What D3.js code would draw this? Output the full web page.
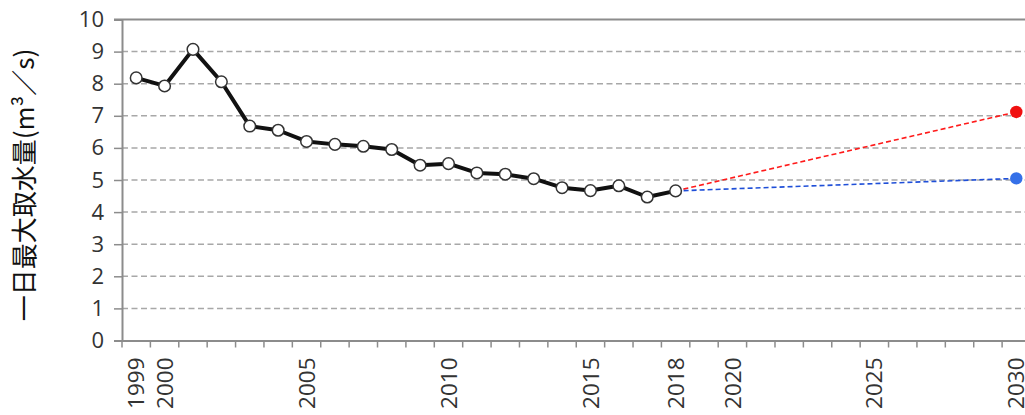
<!DOCTYPE html>
<html><head><meta charset="utf-8">
<script src="https://cdn.jsdelivr.net/npm/d3@7"></script>
<style>
html,body{margin:0;padding:0;background:#fff;}
svg{display:block;}
</style></head>
<body>
<svg id="chart" width="1025" height="415"></svg>
<script>
const years = d3.range(1999, 2031);
const labelYears = [1999, 2000, 2005, 2010, 2015, 2018, 2020, 2025, 2030];
const histYears = [1999,2000,2001,2002,2003,2004,2005,2006,2007,2008,2009,2010,2011,2012,2013,2014,2015,2016,2017,2018];
const histValues = [8.18,7.93,9.07,8.06,6.68,6.55,6.20,6.11,6.05,5.95,5.46,5.51,5.22,5.18,5.04,4.76,4.67,4.82,4.47,4.66];
const projYears = [2018, 2030];
const projHigh = [4.66, 7.12];
const projLow = [4.66, 5.05];
const yTicks = [0,1,2,3,4,5,6,7,8,9,10];
const yTitle = "一日最大取水量(m³／s)";

const svg = d3.select("#chart");
const mLeft = 122, mRight = 1030.5, mTop = 19.5, mBottom = 340.5;

const x = d3.scaleBand().domain(years).range([mLeft, mRight]).padding(0);
const bw = x.bandwidth();
const cx = d => x(d) + bw / 2;
const y = d3.scaleLinear().domain([0, 10]).range([mBottom, mTop]);

const axisColor = "#8c8c8c";
const textColor = "#333";
const font = "'Open Sans', 'Liberation Sans', sans-serif";

// gridlines
svg.append("g").selectAll("line")
  .data(yTicks.filter(v => v > 0 && v < 10))
  .join("line")
  .attr("x1", mLeft).attr("x2", 1025)
  .attr("y1", d => y(d)).attr("y2", d => y(d))
  .attr("stroke", "#a8a8a8").attr("stroke-width", 1.5)
  .attr("stroke-dasharray", "6,3.5");

// top border
svg.append("line").attr("x1", mLeft - 8).attr("x2", 1025)
  .attr("y1", y(10)).attr("y2", y(10))
  .attr("stroke", axisColor).attr("stroke-width", 2);

// y axis
const yAxis = svg.append("g").attr("transform", `translate(${mLeft},0)`)
  .call(d3.axisLeft(y).tickValues(yTicks).tickSize(8).tickPadding(10).tickFormat(d3.format("d")));
yAxis.select(".domain").attr("stroke", axisColor).attr("stroke-width", 2);
yAxis.selectAll(".tick line").attr("stroke", axisColor).attr("stroke-width", 1.5);
yAxis.selectAll(".tick text").attr("fill", textColor).attr("font-family", font).attr("font-size", 22);

// x axis
const xAxis = svg.append("g").attr("transform", `translate(0,${mBottom})`)
  .call(d3.axisBottom(x).tickValues(years).tickSize(7).tickSizeOuter(0)
    .tickFormat(d => labelYears.includes(d) ? String(d) : ""));
xAxis.select(".domain").attr("stroke", axisColor).attr("stroke-width", 2)
  .attr("d", `M${mLeft - 8},0.5H${mRight}`);
xAxis.selectAll(".tick line").attr("transform", `translate(${-bw/2},0)`)
  .attr("stroke", axisColor).attr("stroke-width", 1.5);
xAxis.selectAll(".tick text")
  .attr("fill", textColor).attr("font-family", font).attr("font-size", 22.5)
  .attr("text-anchor", "end")
  .attr("transform", "rotate(-90)")
  .attr("x", -17).attr("y", 0).attr("dy", "0.36em");

// projections
const proj = (vals, color) => {
  svg.append("path")
    .datum(projYears.map((yr, i) => [yr, vals[i]]))
    .attr("fill", "none").attr("stroke", color).attr("stroke-width", 1.6)
    .attr("stroke-dasharray", "5,3")
    .attr("d", d3.line().x(d => cx(d[0])).y(d => y(d[1])));
};
proj(projHigh, "#ff1a1a");
proj(projLow, "#1f4fd8");

// main line
const hist = histYears.map((yr, i) => [yr, histValues[i]]);
svg.append("path").datum(hist)
  .attr("fill", "none").attr("stroke", "#111").attr("stroke-width", 4)
  .attr("stroke-linejoin", "round")
  .attr("d", d3.line().x(d => cx(d[0])).y(d => y(d[1])));
svg.append("g").selectAll("circle").data(hist).join("circle")
  .attr("cx", d => cx(d[0])).attr("cy", d => y(d[1])).attr("r", 5.8)
  .attr("fill", "#fff").attr("stroke", "#333").attr("stroke-width", 1.5);

// projection end markers
svg.append("circle").attr("cx", cx(2030)).attr("cy", y(projHigh[1])).attr("r", 6.2)
  .attr("fill", "#f01010");
svg.append("circle").attr("cx", cx(2030)).attr("cy", y(projLow[1])).attr("r", 6.2)
  .attr("fill", "#3570e8");

// y title
svg.append("text")
  .attr("transform", `translate(34,185) rotate(-90)`)
  .attr("text-anchor", "middle")
  .attr("font-family", "'Noto Sans CJK JP', sans-serif")
  .attr("font-size", 26).attr("fill", "#111")
  .text(yTitle);
</script>
</body></html>
